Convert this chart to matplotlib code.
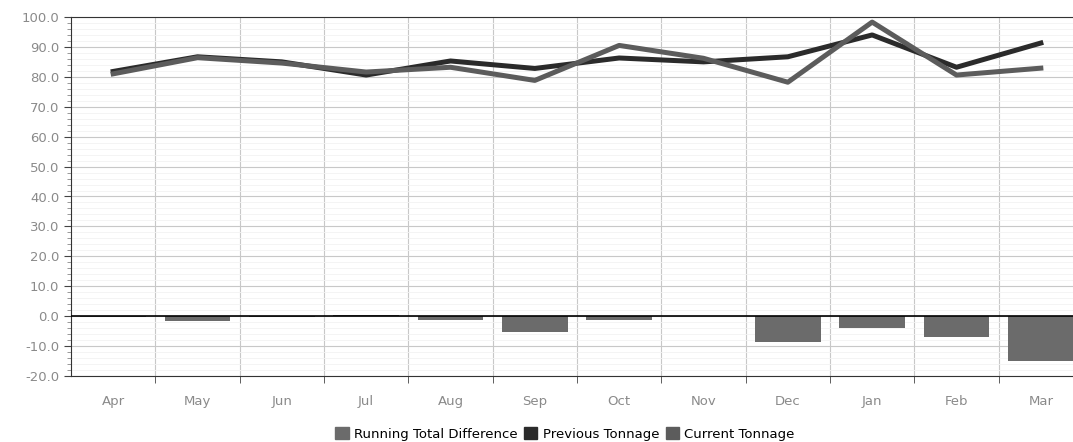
import matplotlib.pyplot as plt
import numpy as np
from matplotlib.ticker import MultipleLocator, FormatStrFormatter
from matplotlib.patches import Patch

months = ["Apr", "May", "Jun", "Jul", "Aug", "Sep", "Oct", "Nov", "Dec", "Jan", "Feb", "Mar"]
running_diff = [-0.3, -1.5, -0.3, 0.3, -1.3, -5.3, -1.3, 0.0, -8.6, -4.0, -7.0, -15.0]
previous_tonnage = [81.8, 86.7, 85.0, 80.6, 85.3, 82.8, 86.3, 85.0, 86.7, 94.0, 83.2, 91.3]
current_tonnage = [81.0, 86.4, 84.6, 81.6, 83.2, 78.8, 90.5, 86.2, 78.2, 98.3, 80.6, 82.9]

fig = plt.figure(figsize=(10.73, 4.42), dpi=100)
# plot area runs a little past the right edge of the image, as in the original
ax = fig.add_axes([71 / 1073, 1 - 376 / 442, (1083 - 71) / 1073, (376 - 17) / 442])

x = np.arange(len(months))
ax.bar(x, running_diff, width=0.78, color="#6b6b6b", zorder=2)
ax.plot(x, previous_tonnage, color="#2b2b2b", lw=3.6, zorder=3)
ax.plot(x, current_tonnage, color="#5c5c5c", lw=3.6, zorder=4)
ax.axhline(0, color="black", lw=1.2, zorder=5)

ax.set_xlim(-0.5, len(months) - 0.5)
ax.set_ylim(-20, 100)
ax.yaxis.set_major_locator(MultipleLocator(10))
ax.yaxis.set_minor_locator(MultipleLocator(2))
ax.yaxis.set_major_formatter(FormatStrFormatter("%.1f"))
ax.grid(axis="y", which="major", color="#c8c8c8", lw=0.8, zorder=0)
ax.grid(axis="y", which="minor", color="#f3f3f3", lw=0.6, zorder=0)

# vertical lines between categories
ax.set_xticks(x)
ax.set_xticklabels(months)
ax.set_xticks(np.arange(0.5, len(months) - 0.5, 1), minor=True)
ax.grid(axis="x", which="minor", color="#c8c8c8", lw=0.8, zorder=0)
ax.tick_params(axis="x", which="major", length=0, pad=14, labelsize=9.5, labelcolor="#8a8a8a")
ax.tick_params(axis="x", which="minor", length=5, color="#444444")
ax.tick_params(axis="y", which="major", length=5, color="#444444", labelsize=9.5, labelcolor="#8a8a8a")
ax.tick_params(axis="y", which="minor", length=3, color="#888888")

for s in ["top", "bottom", "left"]:
    ax.spines[s].set_color("#333333")
ax.spines["right"].set_visible(False)

proxy = [Patch(color="#6b6b6b"), Patch(color="#2b2b2b"), Patch(color="#5c5c5c")]
fig.legend(proxy, ["Running Total Difference", "Previous Tonnage", "Current Tonnage"],
           loc="center", bbox_to_anchor=(565 / 1073, 1 - 434 / 442), ncol=3, frameon=False,
           fontsize=9.5, handlelength=1.0, handleheight=1.0, handletextpad=0.4, columnspacing=0.5)

fig.savefig("out.png", dpi=100)
